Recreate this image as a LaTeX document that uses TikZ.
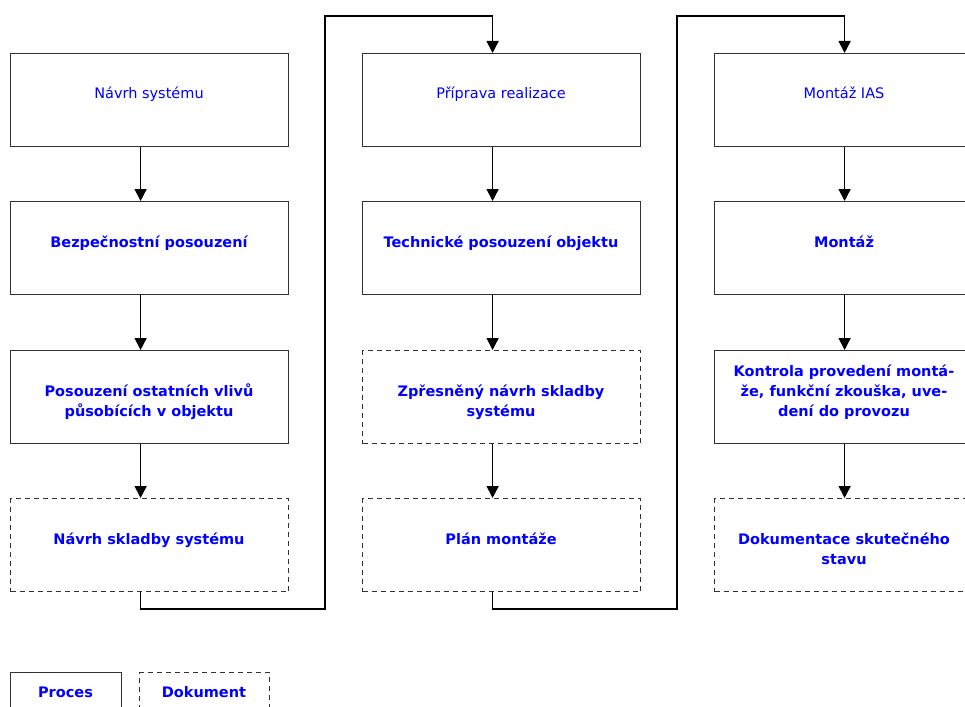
\documentclass[tikz,border=0pt]{standalone}
\usepackage{fontspec}
\setmainfont{DejaVu Sans}
\usetikzlibrary{arrows.meta}
\definecolor{txtblue}{RGB}{0,0,255}
\definecolor{boxgray}{RGB}{50,50,50}
\tikzset{
  procbox/.style={draw=boxgray, line width=1.2pt, minimum width=278pt, minimum height=93pt, inner sep=0pt, anchor=north west},
  docbox/.style={procbox, dash pattern=on 5pt off 4pt},
  lbl/.style={text=txtblue, font=\fontsize{14.5}{20}\selectfont, align=center, anchor=base, inner sep=0pt},
  blbl/.style={lbl, font=\fontsize{14.5}{20}\selectfont\bfseries},
  flow/.style={draw=black, line width=1.5pt, -{Triangle[width=12pt,length=12pt]}},
}
\begin{document}
\begin{tikzpicture}[x=1pt,y=-1pt]
\useasboundingbox (0,0) rectangle (965,706);
\clip (0,0) rectangle (965,706);
% column 1
\node[procbox] (a1) at (10,53) {};
\node[procbox] (b1) at (10,201) {};
\node[procbox] (c1) at (10,350) {};
\node[docbox]  (d1) at (10,498) {};
% column 2
\node[procbox] (a2) at (362,53) {};
\node[procbox] (b2) at (362,201) {};
\node[docbox]  (c2) at (362,350) {};
\node[docbox]  (d2) at (362,498) {};
% column 3
\node[procbox] (a3) at (714,53) {};
\node[procbox] (b3) at (714,201) {};
\node[procbox] (c3) at (714,350) {};
\node[docbox]  (d3) at (714,498) {};
% texts (anchor = baseline of last line)
\node[lbl]  (ta1) at (149,99) {Návrh systému};
\node[blbl] (tb1) at (149,247) {Bezpečnostní posouzení};
\node[blbl] (tc1) at (149,416) {Posouzení ostatních vlivů\\působících v objektu};
\node[blbl] (td1) at (149,544) {Návrh skladby systému};
\node[lbl]  (ta2) at (501,99) {Příprava realizace};
\node[blbl] (tb2) at (501,247) {Technické posouzení objektu};
\node[blbl] (tc2) at (501,416) {Zpřesněný návrh skladby\\systému};
\node[blbl] (td2) at (501,544) {Plán montáže};
\node[lbl]  (ta3) at (844,99) {Montáž IAS};
\node[blbl] (tb3) at (844,247) {Montáž};
\node[blbl] (tc3) at (844,416) {Kontrola provedení montá-\\že, funkční zkouška, uve-\\dení do provozu};
\node[blbl] (td3) at (844,564) {Dokumentace skutečného\\stavu};
% vertical arrows
\foreach \c in {1,2,3}{
  \draw[flow] ([xshift=-9pt]a\c.south) -- ([xshift=-9pt]b\c.north);
  \draw[flow] ([xshift=-9pt]b\c.south) -- ([xshift=-9pt]c\c.north);
  \draw[flow] ([xshift=-9pt]c\c.south) -- ([xshift=-9pt]d\c.north);
}
% column links
\coordinate (j1) at (325,609);
\coordinate (k1) at (325,16);
\coordinate (j2) at (677,609);
\coordinate (k2) at (677,16);
\draw[flow] ([xshift=-9pt]d1.south) |- (j1) -- (k1) -| ([xshift=-9pt]a2.north);
\draw[flow] ([xshift=-9pt]d2.south) |- (j2) -- (k2) -| ([xshift=-9pt]a3.north);
% legend
\node[procbox, minimum width=111pt, minimum height=50pt] (lp) at (10,672) {};
\node[docbox, minimum width=130pt, minimum height=50pt] (ld) at (139,672) {};
\node[blbl] (tlp) at (65.5,697) {Proces};
\node[blbl] (tld) at (204,697) {Dokument};
\end{tikzpicture}
\end{document}
